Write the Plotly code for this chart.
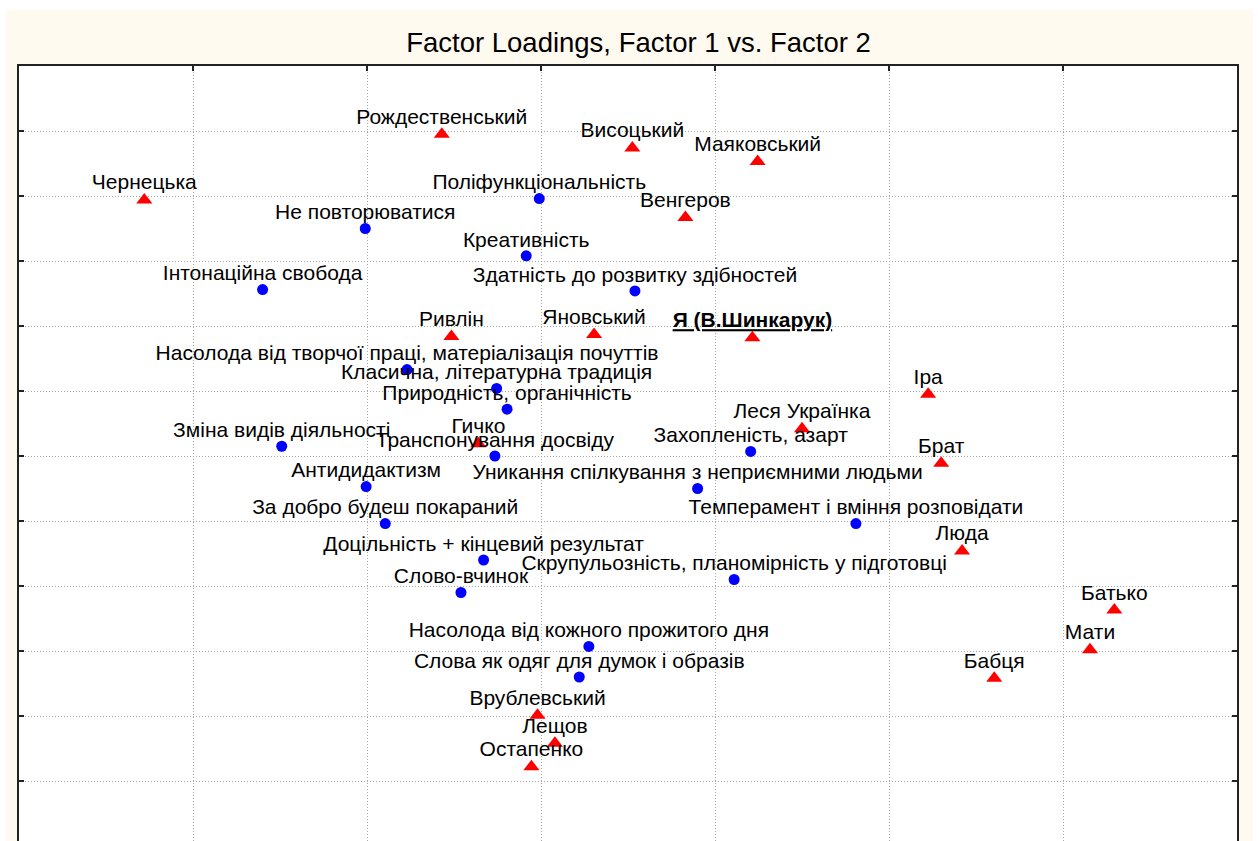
import plotly.graph_objects as go

# ---- data (Factor 1 = x, Factor 2 = y) ----
red_names = ["Рождественський", "Висоцький", "Маяковський", "Чернецька", "Венгеров",
             "Ривлін", "Яновський", "<b><u>Я (В.Шинкарук)</u></b>", "Іра", "Леся Українка",
             "Гичко", "Брат", "Люда", "Батько", "Мати", "Бабця",
             "Врублевський", "Лещов", "Остапенко"]
red_f1 = [0.286, 0.505, 0.649, -0.056, 0.566,
          0.297, 0.461, 0.643, 0.845, 0.700,
          0.328, 0.860, 0.884, 1.059, 1.031, 0.921,
          0.396, 0.416, 0.389]
red_f2 = [0.895, 0.874, 0.853, 0.794, 0.767,
          0.584, 0.587, 0.582, 0.495, 0.442,
          0.419, 0.389, 0.254, 0.163, 0.102, 0.058,
          0.001, -0.042, -0.078]

blue_names = ["Поліфункціональність", "Не повторюватися", "Креативність",
              "Інтонаційна свобода", "Здатність до розвитку здібностей",
              "Насолода від творчої праці, матеріалізація почуттів",
              "Класична, літературна традиція", "Природність, органічність",
              "Зміна видів діяльності", "Транспонування досвіду", "Захопленість, азарт",
              "Уникання спілкування з неприємними людьми", "Антидидактизм",
              "За добро будеш покараний", "Темперамент і вміння розповідати",
              "Доцільність + кінцевий результат",
              "Скрупульозність, планомірність у підготовці", "Слово-вчинок",
              "Насолода від кожного прожитого дня", "Слова як одяг для думок і образів"]
blue_f1 = [0.398, 0.198, 0.383, 0.080, 0.508, 0.246, 0.349, 0.361, 0.102, 0.347,
           0.641, 0.580, 0.199, 0.221, 0.762, 0.334, 0.622, 0.308, 0.455, 0.444]
blue_f2 = [0.796, 0.750, 0.708, 0.656, 0.654, 0.533, 0.504, 0.472, 0.415, 0.400,
           0.407, 0.350, 0.353, 0.296, 0.296, 0.240, 0.210, 0.190, 0.107, 0.060]

x_range = [-0.2, 1.2]
y_range = [-0.1923, 1.0]
title_text = "Factor Loadings, Factor 1 vs. Factor 2"

FONT = "Liberation Sans, Arial, sans-serif"
LABEL_SIZE = 21

fig = go.Figure()

# markers
fig.add_trace(go.Scatter(x=blue_f1, y=blue_f2, mode="markers",
                         marker=dict(symbol="circle", size=11, color="#0000FF",
                                     line=dict(width=0)),
                         hoverinfo="skip", showlegend=False))
fig.add_trace(go.Scatter(x=red_f1, y=red_f2, mode="markers",
                         marker=dict(symbol="triangle-up", size=14, color="#FF0000",
                                     line=dict(width=0)),
                         hoverinfo="skip", showlegend=False))

# labels (transparent markers only control the text offset)
fig.add_trace(go.Scatter(x=blue_f1, y=blue_f2, mode="markers+text", text=blue_names,
                         textposition="top center",
                         textfont=dict(family=FONT, size=LABEL_SIZE, color="#000000"),
                         marker=dict(size=4.8, color="rgba(0,0,0,0)"),
                         hoverinfo="skip", showlegend=False))
fig.add_trace(go.Scatter(x=red_f1, y=red_f2, mode="markers+text", text=red_names,
                         textposition="top center",
                         textfont=dict(family=FONT, size=LABEL_SIZE, color="#000000"),
                         marker=dict(size=6.8, color="rgba(0,0,0,0)"),
                         hoverinfo="skip", showlegend=False))

W, H = 1259, 841
L, R, T, B = 19, 22, 66, 0
pw, ph = W - L - R, H - T - B

def px_to_paper_x(px):
    return (px - L) / pw

def py_to_paper_y(py):
    return (H - B - py) / ph

white_strip = dict(type="rect", xref="paper", yref="paper", layer="below",
                   fillcolor="#FFFFFF", line=dict(width=0))
fig.update_layout(
    width=W, height=H,
    margin=dict(l=L, r=R, t=T, b=B, pad=0),
    paper_bgcolor="#FFFAF0",
    plot_bgcolor="#FFFFFF",
    font=dict(family=FONT, color="#000000"),
    title=dict(text=title_text, x=638.5 / W, xanchor="center", xref="container",
               y=1 - 42 / H, yanchor="middle", yref="container",
               font=dict(family=FONT, size=27.5, color="#000000")),
    showlegend=False,
    shapes=[
        dict(white_strip, x0=px_to_paper_x(-5), x1=px_to_paper_x(6),
             y0=py_to_paper_y(900), y1=py_to_paper_y(-5)),
        dict(white_strip, x0=px_to_paper_x(1253), x1=px_to_paper_x(1270),
             y0=py_to_paper_y(900), y1=py_to_paper_y(-5)),
        dict(white_strip, x0=px_to_paper_x(-5), x1=px_to_paper_x(1270),
             y0=py_to_paper_y(10), y1=py_to_paper_y(-5)),
    ],
)

fig.update_xaxes(range=x_range, side="top", dtick=0.2, tick0=-0.2,
                 showticklabels=False, ticks="inside", ticklen=5, tickwidth=1.5,
                 tickcolor="#222222", showline=True, linecolor="#222222", linewidth=2,
                 mirror=False, showgrid=True, gridcolor="#A8A8A8", gridwidth=1,
                 griddash="1px,2px", zeroline=False, fixedrange=True)
fig.update_yaxes(range=y_range, dtick=0.1, tick0=0.0,
                 showticklabels=False, ticks="inside", ticklen=5, tickwidth=1.5,
                 tickcolor="#222222", showline=True, linecolor="#222222", linewidth=2,
                 mirror="ticks", showgrid=True, gridcolor="#A8A8A8", gridwidth=1,
                 griddash="1px,2px", zeroline=False, fixedrange=True)

fig.write_html("out.html", config={"displayModeBar": False},
               post_script="document.body.style.margin='0';document.body.style.overflow='hidden';")
